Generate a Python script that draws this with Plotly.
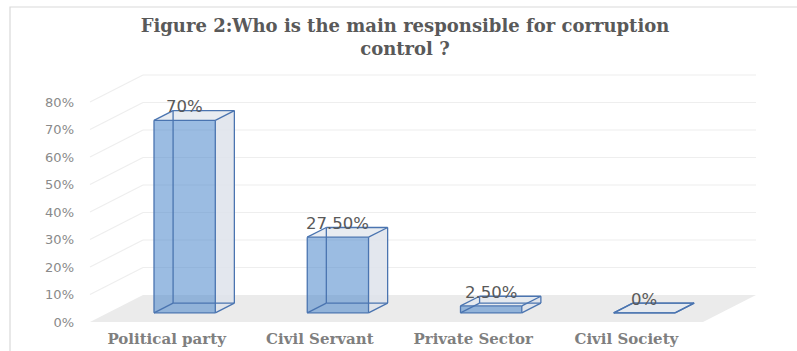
import plotly.graph_objects as go

# ---- data -------------------------------------------------------------
categories = ["Political party", "Civil Servant", "Private Sector", "Civil Society"]
shares = [70, 27.5, 2.5, 0]            # percent of respondents
y_ticks = [0, 10, 20, 30, 40, 50, 60, 70, 80]
y_tick_text = [f"{t}%" for t in y_ticks]
title_text = "Figure 2:Who is the main responsible for corruption<br>control ?"

# ---- page / plot-area geometry (pixels) ---------------------------------
W, H = 797, 351
M_L, M_R, M_T, M_B = 80, 7, 65, 23
FRONT_X0 = 90          # pixel where the front edge of the floor starts
CAT_PX = 153.25        # pixels per category on the front plane
PCT_PX = 2.75          # pixels per percentage point
FLOOR_Y = 322          # pixel row of 0 % on the front plane
DEPTH_PX = (53, -27)   # oblique offset of the back plane, in pixels

plot_w = W - M_L - M_R
plot_h = H - M_T - M_B
x_range = [(M_L - FRONT_X0) / CAT_PX, (M_L + plot_w - FRONT_X0) / CAT_PX]
y_range = [(FLOOR_Y - (M_T + plot_h)) / PCT_PX, (FLOOR_Y - M_T) / PCT_PX]

# depth expressed in axis units
DX = DEPTH_PX[0] / CAT_PX
DY = -DEPTH_PX[1] / PCT_PX

BAR_W = 0.40
D_FRONT, D_BACK = 0.34, 0.70
N = len(categories)


def proj(c, v, d):
    """Oblique projection of (category pos, value, depth) to axis coords."""
    return c + d * DX, v + d * DY


def poly(points):
    xs, ys = zip(*[proj(*p) for p in points])
    return list(xs) + [xs[0]], list(ys) + [ys[0]]


def px_to_paper(px, py):
    return (px - M_L) / plot_w, (M_T + plot_h - py) / plot_h


fig = go.Figure()

GRID = "#eeeeee"
FLOOR = "#ebebeb"
EDGE = "#4a74b0"

# floor
fx, fy = poly([(0, 0, 0), (N, 0, 0), (N, 0, 1), (0, 0, 1)])
fig.add_trace(go.Scatter(x=fx, y=fy, fill="toself", fillcolor=FLOOR,
                         mode="lines", line=dict(width=0), hoverinfo="skip"))

# back-wall gridlines and side-wall diagonals
gx, gy, sx, sy = [], [], [], []
for t in y_ticks:
    if t == 0:
        continue
    a = proj(0, t, 1)
    b = proj(N, t, 1)
    gx += [a[0], b[0], None]
    gy += [a[1], b[1], None]
    s = proj(0, t, 0)
    sx += [s[0], a[0], None]
    sy += [s[1], a[1], None]
fig.add_trace(go.Scatter(x=gx, y=gy, mode="lines", line=dict(color=GRID, width=1.2),
                         hoverinfo="skip"))
fig.add_trace(go.Scatter(x=sx, y=sy, mode="lines", line=dict(color=GRID, width=1.2),
                         hoverinfo="skip"))

# 3-D looking transparent columns
for i, v in enumerate(shares):
    xl = i + 0.5 - BAR_W / 2
    xr = i + 0.5 + BAR_W / 2
    f0, f1 = D_FRONT, D_BACK

    right = poly([(xr, 0, f0), (xr, 0, f1), (xr, v, f1), (xr, v, f0)])
    top = poly([(xl, v, f0), (xr, v, f0), (xr, v, f1), (xl, v, f1)])
    front = poly([(xl, 0, f0), (xr, 0, f0), (xr, v, f0), (xl, v, f0)])

    fig.add_trace(go.Scatter(x=right[0], y=right[1], fill="toself",
                             fillcolor="rgba(222,227,235,0.85)", mode="lines",
                             line=dict(width=0), hoverinfo="skip"))
    fig.add_trace(go.Scatter(x=top[0], y=top[1], fill="toself",
                             fillcolor="rgba(230,234,240,0.9)", mode="lines",
                             line=dict(width=0), hoverinfo="skip"))
    if v > 0:
        fig.add_trace(go.Scatter(x=front[0], y=front[1], fill="toself",
                                 fillcolor="rgba(77,135,204,0.56)", mode="lines",
                                 line=dict(width=0), hoverinfo="skip"))

    # the twelve box edges
    corners = {}
    for cx, cn in ((xl, "l"), (xr, "r")):
        for cv, vn in ((0, "b"), (v, "t")):
            for cd, dn in ((f0, "f"), (f1, "k")):
                corners[cn + vn + dn] = proj(cx, cv, cd)
    edges = [("lbf", "rbf"), ("ltf", "rtf"), ("lbk", "rbk"), ("ltk", "rtk"),
             ("lbf", "ltf"), ("rbf", "rtf"), ("lbk", "ltk"), ("rbk", "rtk"),
             ("lbf", "lbk"), ("rbf", "rbk"), ("ltf", "ltk"), ("rtf", "rtk")]
    ex, ey = [], []
    for a, b in edges:
        ex += [corners[a][0], corners[b][0], None]
        ey += [corners[a][1], corners[b][1], None]
    fig.add_trace(go.Scatter(x=ex, y=ey, mode="lines",
                             line=dict(color=EDGE, width=1.3), hoverinfo="skip"))


def pct_label(v):
    return f"{v:.0f}%" if float(v).is_integer() else f"{v:.2f}%"


for i, v in enumerate(shares):
    lx, ly = proj(i + 0.5, v, D_BACK)
    fig.add_annotation(x=i + 0.5 + D_FRONT * DX, y=ly, yshift=4,
                       text=pct_label(v), showarrow=False,
                       xanchor="center", yanchor="middle",
                       font=dict(family="DejaVu Sans", size=16.5, color="#595959"))

# outer chart border
bx0, by0 = px_to_paper(10, 7)
bx1, by1 = px_to_paper(W + 5, H + 10)
fig.add_shape(type="rect", xref="paper", yref="paper",
              x0=bx0, y0=by1, x1=bx1, y1=by0,
              line=dict(color="#d9d9d9", width=1.2), fillcolor="rgba(0,0,0,0)",
              layer="below")

fig.update_layout(
    width=W, height=H,
    margin=dict(l=M_L, r=M_R, t=M_T, b=M_B, autoexpand=False),
    paper_bgcolor="white", plot_bgcolor="white",
    showlegend=False,
    title=dict(text=title_text, x=405 / W, xref="container", xanchor="center",
               y=(H - 32) / H, yref="container", yanchor="top",
               font=dict(family="DejaVu Serif", size=18, weight="bold",
                         color="#595959")),
    xaxis=dict(range=x_range, tickvals=[i + 0.5 for i in range(N)],
               ticktext=categories, showgrid=False, zeroline=False,
               showline=False, ticks="", ticklabelstandoff=0, automargin=False,
               tickfont=dict(family="DejaVu Serif", size=15, weight="bold",
                             color="#7f7f7f")),
    yaxis=dict(range=y_range, tickvals=y_ticks, ticktext=y_tick_text,
               showgrid=False, zeroline=False, showline=False, ticks="",
               ticklabelstandoff=5, automargin=False,
               tickfont=dict(family="DejaVu Sans", size=13, color="#8a8a8a")),
)

fig.write_html("out.html")
